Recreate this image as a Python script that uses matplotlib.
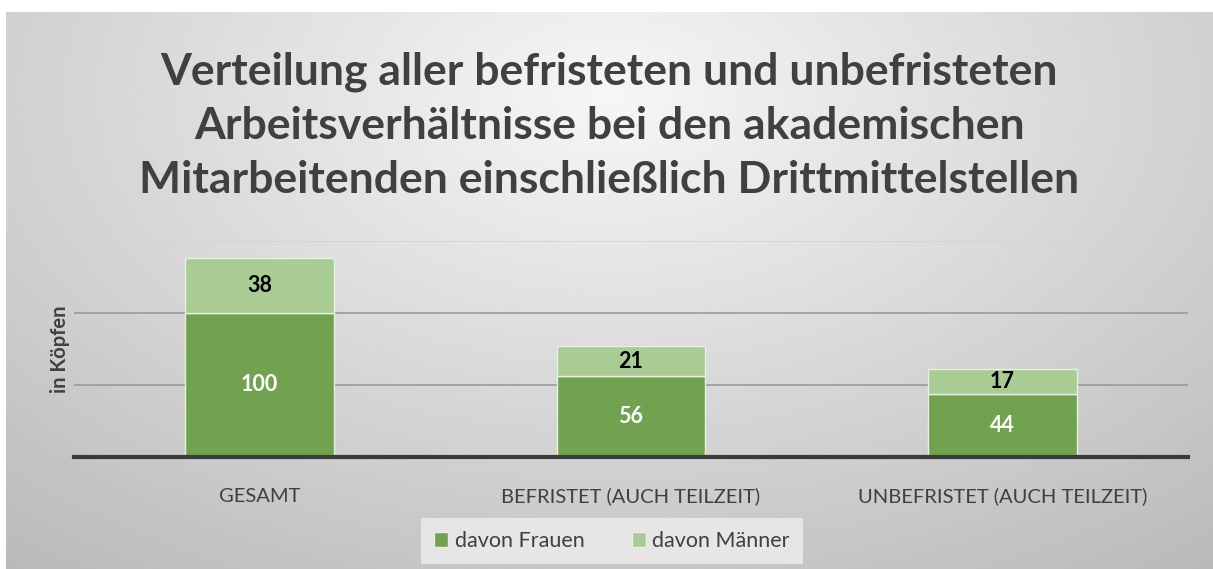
import numpy as np
import matplotlib
matplotlib.use('Agg')
import matplotlib.pyplot as plt

# data
categories = ['GESAMT', 'BEFRISTET (AUCH TEILZEIT)', 'UNBEFRISTET (AUCH TEILZEIT)']
frauen = [100, 56, 44]
maenner = [38, 21, 17]
series_names = ['davon Frauen', 'davon Männer']
title = ('Verteilung aller befristeten und unbefristeten\n'
         'Arbeitsverhältnisse bei den akademischen\n'
         'Mitarbeitenden einschließlich Drittmittelstellen')

dark_green = '#70A250'
light_green = '#A9CC94'
text_gray = '#404040'

plt.rcParams['font.family'] = ['Lato', 'DejaVu Sans']

fig = plt.figure(figsize=(12.13, 5.69), dpi=100)

# gradient background of the chart area (white margin top/left)
bg = fig.add_axes([6 / 1213, 0, 1 - 6 / 1213, 1 - 12 / 569], zorder=-10)
yy, xx = np.mgrid[0:1:300j, 0:1:600j]
dist = np.sqrt(((xx - 0.5) / 0.75) ** 2 + ((yy - 0.15) / 1.0) ** 2)
shade = 0.965 - 0.22 * np.clip(dist, 0, 1.2)
bg.imshow(shade, cmap='gray', vmin=0, vmax=1, aspect='auto', extent=[0, 1, 1, 0])
bg.set_axis_off()

# plot area
left, right = 74 / 1213, 1188 / 1213
bottom, top = 1 - 457 / 569, 1 - 241 / 569
ax = fig.add_axes([left, bottom, right - left, top - bottom])
ax.patch.set_alpha(0)

x = np.arange(len(categories))
b1 = ax.bar(x, frauen, width=0.4, color=dark_green, edgecolor='#e8efe3', linewidth=1.0,
            label=series_names[0], zorder=3)
b2 = ax.bar(x, maenner, width=0.4, bottom=frauen, color=light_green, edgecolor='#e8efe3',
            linewidth=1.0, label=series_names[1], zorder=3)
ax.bar_label(b1, label_type='center', color='white', fontsize=15.5, fontweight='bold')
ax.bar_label(b2, label_type='center', color='black', fontsize=15.5, fontweight='bold')

ax.set_ylim(0, 150)
ax.set_xlim(-0.5, 2.5)
ax.set_yticks([50, 100, 150])
ax.yaxis.grid(True, color='#9a9a9a', linewidth=1.2, zorder=0)
ax.get_ygridlines()[-1].set_color('#d2d2d2')
for sp in ['top', 'right', 'left']:
    ax.spines[sp].set_visible(False)
ax.spines['bottom'].set_color('#3a3a3a')
ax.spines['bottom'].set_linewidth(3)
ax.spines['bottom'].set_zorder(4)
ax.tick_params(axis='y', length=0, labelleft=False)
ax.tick_params(axis='x', length=0, pad=22, labelsize=14.5, labelcolor=text_gray)
ax.set_xticks(x)
ax.set_xticklabels(categories)

ax.set_ylabel('in Köpfen', fontsize=14.5, fontweight='bold', color=text_gray, labelpad=3)

fig.text(0.5 + 3 / 1213, 1 - 126 / 569, title, ha='center', va='center', fontsize=32,
         fontweight='bold', color=text_gray, linespacing=1.42)

leg = fig.legend(handles=[b1, b2], loc='center', bbox_to_anchor=(612 / 1213, 1 - 541 / 569),
                 ncol=2, frameon=True, fontsize=15.5, handlelength=0.65, handleheight=0.65,
                 handletextpad=0.3, columnspacing=2.2, borderpad=0.6, borderaxespad=0,
                 fancybox=False)
leg.get_frame().set_facecolor('#e6e6e6')
leg.get_frame().set_edgecolor('none')
leg.get_frame().set_alpha(1)
for t in leg.get_texts():
    t.set_color(text_gray)

fig.savefig('out.png', dpi=100)
